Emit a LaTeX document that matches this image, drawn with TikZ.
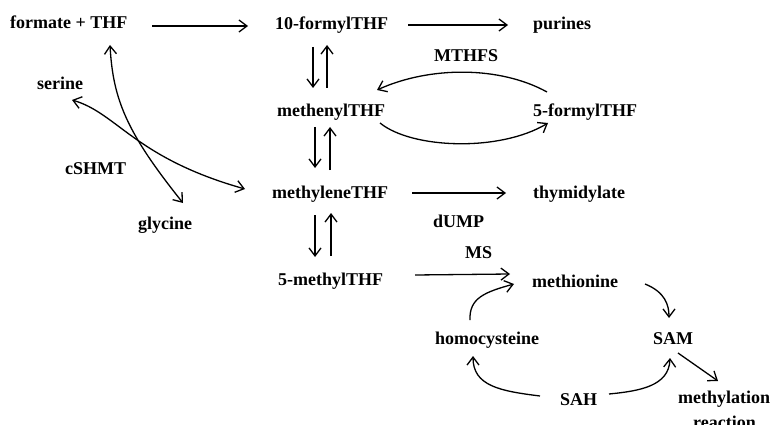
\documentclass[tikz,border=0pt]{standalone}
\usepackage{fontspec}
\setmainfont{Liberation Serif}
\usetikzlibrary{arrows.meta}
\begin{document}
\begin{tikzpicture}[x=1pt,y=-1pt,
  lbl/.style={font=\fontsize{18}{20}\selectfont\bfseries, inner sep=0pt, anchor=base west},
  arr/.style={line width=1.3pt, -{Straight Barb[length=8pt,width=12pt,line width=1.3pt]}},
  darr/.style={line width=1.3pt, {Straight Barb[length=8pt,width=12pt,line width=1.3pt]}-{Straight Barb[length=8pt,width=12pt,line width=1.3pt]}}]
\useasboundingbox (0,0) rectangle (776,425);
% labels
\node[lbl] (formate) at (10,29) {formate + THF};
\node[lbl] (formyl10) at (275,30) {10-formylTHF};
\node[lbl] (purines) at (533,30) {purines};
\node[lbl] (mthfs) at (434,62) {MTHFS};
\node[lbl] (serine) at (37,90) {serine};
\node[lbl] (methenyl) at (277,117) {methenylTHF};
\node[lbl] (formyl5) at (533,117) {5-formylTHF};
\node[lbl] (cshmt) at (65,175) {cSHMT};
\node[lbl] (methylene) at (272,198) {methyleneTHF};
\node[lbl] (thymidylate) at (533,198) {thymidylate};
\node[lbl] (dump) at (433,227) {dUMP};
\node[lbl] (glycine) at (138,229) {glycine};
\node[lbl] (ms) at (465,258) {MS};
\node[lbl] (methyl5) at (278,285) {5-methylTHF};
\node[lbl] (methionine) at (532,287) {methionine};
\node[lbl] (homocys) at (435,344) {homocysteine};
\node[lbl] (sam) at (653,344) {SAM};
\node[lbl] (sah) at (560,405) {SAH};
\node[lbl] (methylation) at (678,403) {methylation};
\node[lbl] (reaction) at (693,428) {reaction};
% connector end points
\coordinate (a1s) at (152,26); \coordinate (a1e) at (248,26);
\coordinate (a2s) at (408,25); \coordinate (a2e) at (508,25);
\coordinate (a3s) at (412,193); \coordinate (a3e) at (506,193);
\coordinate (a4s) at (415,275); \coordinate (a4e) at (510,274);
% horizontal arrows
\draw[arr] (a1s) -- (a1e);
\draw[arr] (a2s) -- (a2e);
\draw[arr] (a3s) -- (a3e);
\draw[arr] (a4s) -- (a4e);
% vertical pairs
\draw[arr] (313,47) -- (313,88);
\draw[arr] (327,88) -- (327,45);
\draw[arr] (315,127) -- (315,168);
\draw[arr] (330,170) -- (330,127);
\draw[arr] (315,215) -- (315,257);
\draw[arr] (331,256) -- (331,213);
% MTHFS arcs
\draw[arr] (547,92) .. controls (500,66) and (430,66) .. (377,90);
\draw[arr] (380,123) .. controls (412,149) and (500,152) .. (548,123);
% cSHMT crossing curves
\draw[darr] (110,45) .. controls (113,100) and (127,133) .. (183,203);
\draw[darr] (72,100) .. controls (117,113) and (135,158) .. (245,189);
% methionine cycle
\draw[arr] (470,320) .. controls (469,298) and (485,292) .. (514,284);
\draw[arr] (645,284) .. controls (665,292) and (669,305) .. (669,318);
\draw[arr] (678,353) -- (718,381);
\draw[arr] (609,394) .. controls (640,391) and (669,386) .. (670,358);
\draw[arr] (540,396) .. controls (500,391) and (473,386) .. (473,356);
\end{tikzpicture}
\end{document}
